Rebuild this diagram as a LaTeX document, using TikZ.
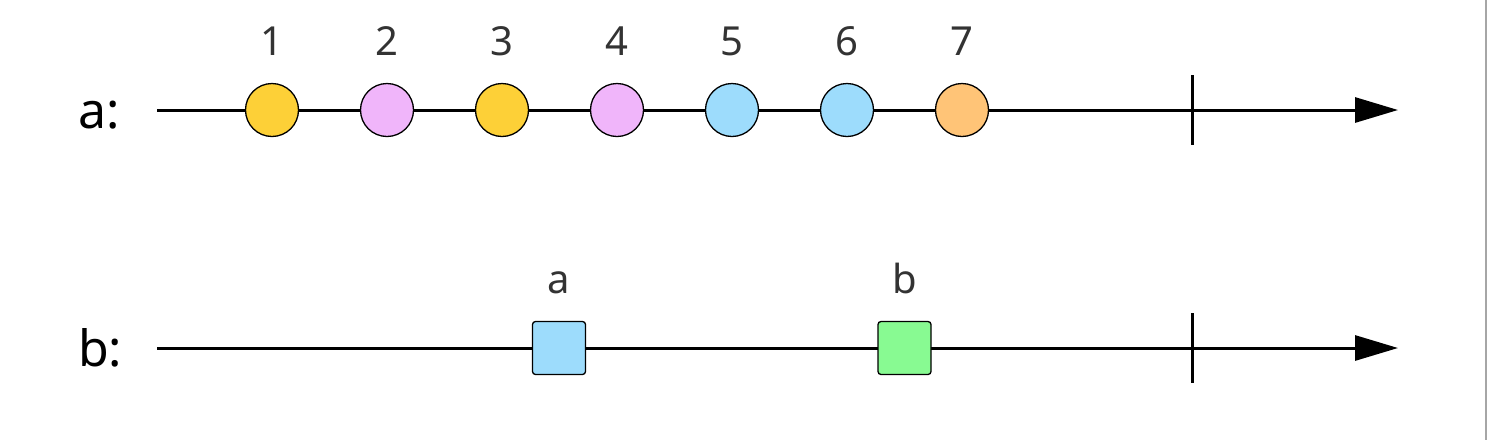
\documentclass[tikz,border=0pt]{standalone}
\usepackage{fontspec}
\setmainfont{Noto Sans}
\usetikzlibrary{arrows.meta}
\definecolor{cyel}{HTML}{FDD037}
\definecolor{cpink}{HTML}{F0B5FA}
\definecolor{cblue}{HTML}{9DDCFC}
\definecolor{corange}{HTML}{FFC477}
\definecolor{cgreen}{HTML}{88FA92}
\definecolor{ctext}{HTML}{333333}
\tikzset{
  axisline/.style={line width=3pt, -{Triangle[length=43pt,width=25pt]}},
  tickline/.style={line width=3pt},
  marble/.style={circle, draw=black, line width=1.3pt, minimum size=53pt, inner sep=0pt},
  sqmarble/.style={rectangle, rounded corners=3pt, draw=black, line width=1.3pt, minimum size=53pt, inner sep=0pt},
  numlabel/.style={anchor=base, font=\fontsize{40}{40}\selectfont, text=ctext, inner sep=0pt},
  rowlabel/.style={anchor=base west, font=\fontsize{50}{50}\selectfont, text=black, inner sep=0pt},
}
\begin{document}
\begin{tikzpicture}[x=1pt,y=-1pt]
\useasboundingbox (0,0) rectangle (1488,440);
\fill[white] (0,0) rectangle (1488,440);
\draw[line width=1.5pt, draw=gray!70] (1486,0) -- (1486,440);
% row a
\node[rowlabel] (la) at (78,128) {a:};
\coordinate (sa) at (157,110);
\coordinate (ea) at (1398,110);
\draw[axisline] (sa) -- (ea);
\coordinate (ta1) at (1192,75);
\coordinate (ta2) at (1192,145);
\draw[tickline] (ta1) -- (ta2);
\foreach \i/\x/\c in {1/272/cyel,2/387/cpink,3/502/cyel,4/617/cpink,5/732/cblue,6/847/cblue,7/962/corange}{
  \node[marble, fill=\c] (m\i) at (\x,110) {};
  \node[numlabel] (n\i) at (\x,55) {\i};
}
% row b
\node[rowlabel] (lb) at (78,366) {b:};
\coordinate (sb) at (157,348);
\coordinate (eb) at (1398,348);
\draw[axisline] (sb) -- (eb);
\coordinate (tb1) at (1192,313);
\coordinate (tb2) at (1192,383);
\draw[tickline] (tb1) -- (tb2);
\node[sqmarble, fill=cblue] (qa) at (559,348) {};
\node[numlabel] (qla) at (559,293) {a};
\node[sqmarble, fill=cgreen] (qb) at (904.5,348) {};
\node[numlabel] (qlb) at (904.5,293) {b};
\end{tikzpicture}
\end{document}
